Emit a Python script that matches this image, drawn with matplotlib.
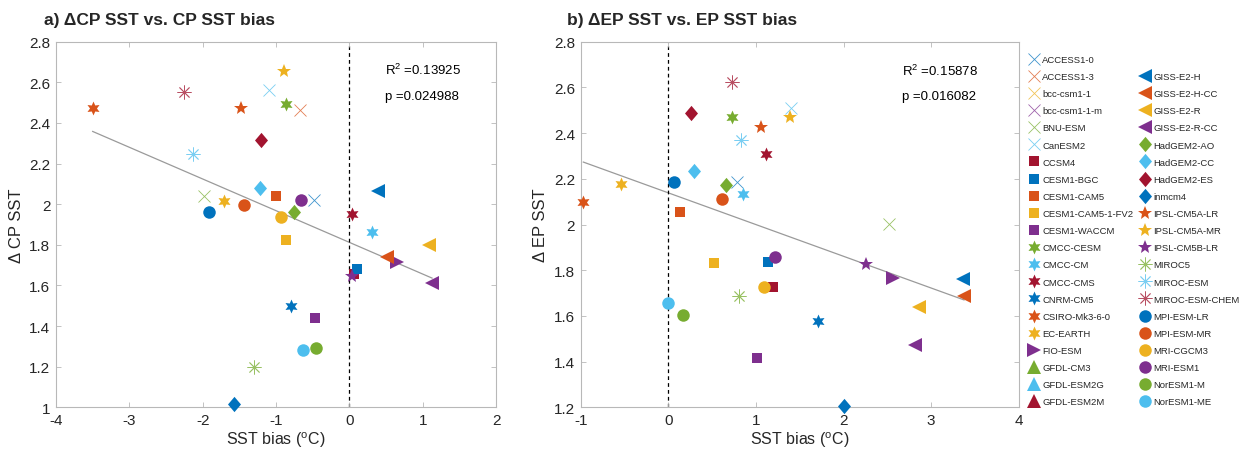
import numpy as np
import matplotlib
matplotlib.use('Agg')
import matplotlib.pyplot as plt
from matplotlib.lines import Line2D

plt.rcParams['font.family'] = ['Liberation Sans', 'DejaVu Sans']
plt.rcParams['mathtext.fontset'] = 'custom'
plt.rcParams['mathtext.rm'] = 'Liberation Sans'
plt.rcParams['mathtext.it'] = 'Liberation Sans:italic'

# ---------------- data ----------------
models = ['ACCESS1-0', 'ACCESS1-3', 'bcc-csm1-1', 'bcc-csm1-1-m', 'BNU-ESM', 'CanESM2',
          'CCSM4', 'CESM1-BGC', 'CESM1-CAM5', 'CESM1-CAM5-1-FV2', 'CESM1-WACCM',
          'CMCC-CESM', 'CMCC-CM', 'CMCC-CMS', 'CNRM-CM5', 'CSIRO-Mk3-6-0', 'EC-EARTH',
          'FIO-ESM', 'GFDL-CM3', 'GFDL-ESM2G', 'GFDL-ESM2M',
          'GISS-E2-H', 'GISS-E2-H-CC', 'GISS-E2-R', 'GISS-E2-R-CC',
          'HadGEM2-AO', 'HadGEM2-CC', 'HadGEM2-ES', 'inmcm4',
          'IPSL-CM5A-LR', 'IPSL-CM5A-MR', 'IPSL-CM5B-LR',
          'MIROC5', 'MIROC-ESM', 'MIROC-ESM-CHEM',
          'MPI-ESM-LR', 'MPI-ESM-MR', 'MRI-CGCM3', 'MRI-ESM1', 'NorESM1-M', 'NorESM1-ME']

nan = np.nan
cp_bias = [-0.487, -0.668, nan, nan, -1.988, -1.096,
           0.07, 0.105, -0.996, -0.864, -0.464,
           -0.864, 0.31, 0.031, -0.795, -3.50, -1.715,
           0.65, nan, nan, nan,
           0.386, 0.514, 1.091, 1.128,
           -0.76, -1.224, -1.205, -1.569,
           -1.478, -0.887, 0.036,
           -1.306, -2.138, -2.26,
           -1.919, -1.432, -0.932, -0.655, -0.45, -0.632]
cp_dsst = [2.022, 2.465, nan, nan, 2.042, 2.564,
           1.655, 1.681, 2.042, 1.824, 1.44,
           2.492, 1.862, 1.953, 1.497, 2.472, 2.017,
           1.717, nan, nan, nan,
           2.064, 1.742, 1.80, 1.611,
           1.963, 2.080, 2.318, 1.016,
           2.474, 2.654, 1.645,
           1.197, 2.247, 2.551,
           1.963, 1.996, 1.938, 2.021, 1.29, 1.284]
ep_bias = [0.781, nan, nan, nan, 2.519, 1.397,
           1.192, 1.142, 0.134, 0.522, 1.016,
           0.731, 0.856, 1.112, 1.712, -0.970, -0.543,
           2.568, nan, nan, nan,
           3.361, 3.376, 2.866, 2.816,
           0.655, 0.297, 0.256, 2.006,
           1.058, 1.389, 2.257,
           0.811, 0.833, 0.724,
           0.065, 0.609, 1.092, 1.218, 0.164, 0.0]
ep_dsst = [2.185, nan, nan, nan, 2.002, 2.51,
           1.728, 1.837, 2.056, 1.830, 1.416,
           2.469, 2.133, 2.309, 1.576, 2.097, 2.177,
           1.766, nan, nan, nan,
           1.761, 1.688, 1.638, 1.473,
           2.174, 2.233, 2.487, 1.204,
           2.428, 2.472, 1.827,
           1.686, 2.371, 2.622,
           2.185, 2.112, 1.725, 1.856, 1.605, 1.655]

stats_a = ['R$^2$ =0.13925', 'p =0.024988']
stats_b = ['R$^2$ =0.15878', 'p =0.016082']

# ---------------- styles ----------------
palette = ['#0072BD', '#D95319', '#EDB120', '#7E2F8E', '#77AC30', '#4DBEEE', '#A2142F']
hexagram = (6, 1, 0)
asterisk = (8, 2, 0)
diamond = [(0, 1), (0.85, 0), (0, -1), (-0.85, 0), (0, 1)]
marker_groups = (['x'] * 6 + ['s'] * 5 + [hexagram] * 6 + ['>'] + ['^'] * 3 +
                 ['<'] * 4 + [diamond] * 4 + ['*'] * 3 + [asterisk] * 3 + ['o'] * 6)
size_map = {'x': 8, 's': 7.5, '>': 10, '^': 10, '<': 10, '*': 10.5, 'o': 9}


def style(i):
    m = marker_groups[i]
    c = palette[i % 7]
    if m == 'x':
        return dict(marker='x', markersize=8, color=c, markeredgewidth=0.6, alpha=0.75)
    if m == asterisk:
        return dict(marker=asterisk, markersize=10, color=c, markeredgewidth=0.6, alpha=0.75)
    if m == hexagram:
        return dict(marker=hexagram, markersize=10, color=c, markeredgewidth=0)
    if m == diamond:
        return dict(marker=diamond, markersize=11, color=c, markeredgewidth=0)
    return dict(marker=m, markersize=size_map[m], color=c, markeredgewidth=0)


W, H = 1252, 456
fig = plt.figure(figsize=(W / 100, H / 100), dpi=100)
ax1 = fig.add_axes([56 / W, 47.7 / H, 440 / W, 365.6 / H])
ax2 = fig.add_axes([580.7 / W, 47.7 / H, 438 / W, 365.6 / H])

spine_c = '#b8b8b8'
text_c = '#262626'


def panel(ax, xs, ys, xlim, ylim, xticks, yticks, ylabel, stats, stats_x, stats_y):
    xs = np.asarray(xs, float)
    ys = np.asarray(ys, float)
    handles = []
    for i in range(len(models)):
        h, = ax.plot([xs[i]], [ys[i]], linestyle='none', label=models[i],
                     clip_on=False, zorder=3, **style(i))
        handles.append(h)
    ok = ~np.isnan(xs)
    k, b = np.polyfit(xs[ok], ys[ok], 1)
    xx = np.array([xs[ok].min(), xs[ok].max()])
    ax.plot(xx, k * xx + b, color='#9a9a9a', lw=0.9, zorder=1)
    ax.axvline(0, color='black', ls='--', lw=0.9, dashes=(3, 2.5), zorder=1)
    ax.set_xlim(*xlim)
    ax.set_ylim(*ylim)
    ax.set_xticks(xticks)
    ax.set_yticks(yticks)
    ax.set_xticklabels(['%g' % t for t in xticks])
    ax.set_yticklabels(['%g' % t for t in yticks])
    ax.tick_params(direction='in', top=True, right=True, length=3.5, width=0.6,
                   color=spine_c, labelsize=11, labelcolor=text_c, pad=4)
    for s in ax.spines.values():
        s.set_color(spine_c)
        s.set_linewidth(0.8)
    ax.set_xlabel('SST bias ($^{\\mathrm{o}}$C)', fontsize=11.5, color=text_c, labelpad=2)
    ax.set_ylabel(ylabel, fontsize=12, color=text_c, labelpad=4)
    ax.text(stats_x, stats_y[0], stats[0], fontsize=9.5, va='center', ha='left', color='black')
    ax.text(stats_x, stats_y[1], stats[1], fontsize=9.5, va='center', ha='left', color='black')
    return handles


panel(ax1, cp_bias, cp_dsst, (-4, 2), (1, 2.8), list(range(-4, 3)),
      [1, 1.2, 1.4, 1.6, 1.8, 2, 2.2, 2.4, 2.6, 2.8], '\u0394 CP SST',
      stats_a, 0.49, (2.662, 2.534))
handles = panel(ax2, ep_bias, ep_dsst, (-1, 4), (1.2, 2.8), list(range(-1, 5)),
                [1.2, 1.4, 1.6, 1.8, 2, 2.2, 2.4, 2.6, 2.8], '\u0394 EP SST',
                stats_b, 2.664, (2.673, 2.564))

fig.text(44 / W, 1 - 20 / H, 'a) \u0394CP SST vs. CP SST bias', fontsize=12.5,
         fontweight='bold', va='center', ha='left', color=text_c)
fig.text(567 / W, 1 - 20 / H, 'b) \u0394EP SST vs. EP SST bias', fontsize=12.5,
         fontweight='bold', va='center', ha='left', color=text_c)

# legend: second column starts one row lower
blank = Line2D([], [], linestyle='none')
leg_handles = handles[:21] + [blank] + handles[21:]
leg_labels = models[:21] + [''] + models[21:]
fig.legend(leg_handles, leg_labels, ncol=2, loc='upper left',
           bbox_to_anchor=(1028 / W, 1 - 56 / H), frameon=False, fontsize=6.8,
           handlelength=1.2, handletextpad=0.3, columnspacing=0.6,
           labelspacing=0.86, borderpad=0, borderaxespad=0, labelcolor=text_c)

fig.savefig('out.png', dpi=100)
